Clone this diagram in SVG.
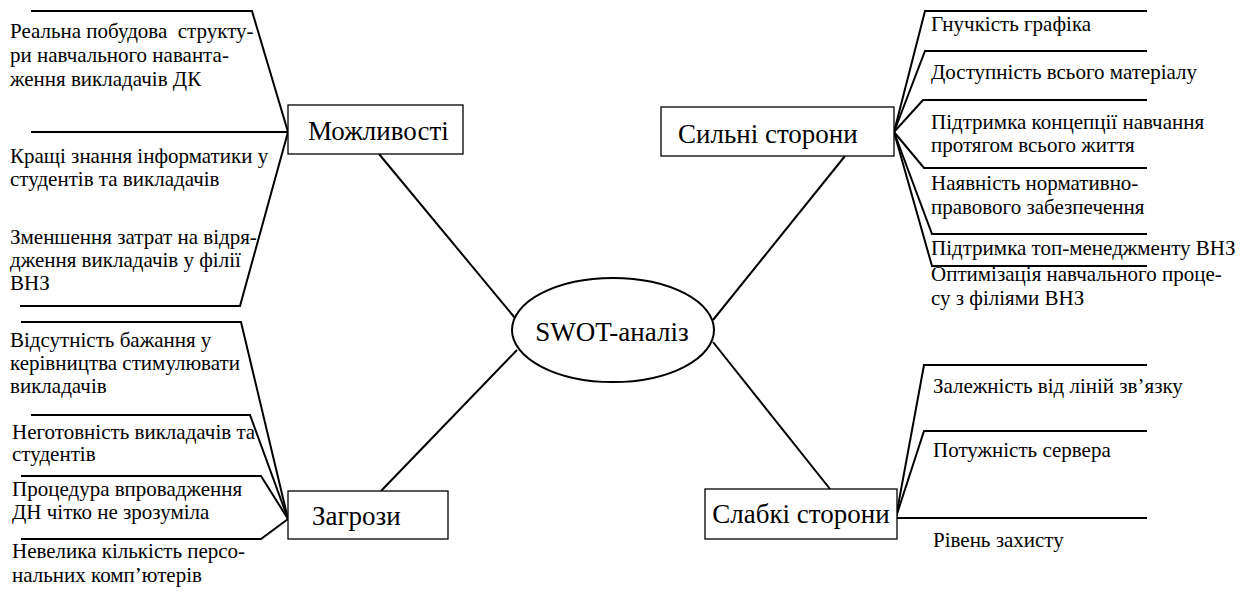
<svg xmlns="http://www.w3.org/2000/svg" width="1250" height="598" viewBox="0 0 1250 598">
<style>
.t{font-family:"Liberation Serif","Times New Roman",serif;font-size:21px;fill:#000}
.h{font-family:"Liberation Serif","Times New Roman",serif;font-size:27px;fill:#000}
.b{fill:#fff;stroke:#000;stroke-width:1.3}
.c{fill:none;stroke:#000;stroke-width:2}
</style>
<rect width="1250" height="598" fill="#fff"/>
<g id="connectors">
<path class="c" d="M379,154 L515,318"/>
<path class="c" d="M845,156 L713,320"/>
<path class="c" d="M517,350 L381,491"/>
<path class="c" d="M713,342 L830,489"/>
<path class="c" d="M31,11 H252 L288,132"/>
<path class="c" d="M31,132 H288"/>
<path class="c" d="M20,306 H240 L288,132"/>
<path class="c" d="M21,322 H241 L288,519"/>
<path class="c" d="M31,415 H250 L288,519"/>
<path class="c" d="M21,476 H261 L288,519"/>
<path class="c" d="M21,539 H261 L288,519"/>
<path class="c" d="M1147,11 H925 L894,132"/>
<path class="c" d="M1147,51 H925 L894,132"/>
<path class="c" d="M1147,100 H923 L894,132"/>
<path class="c" d="M1147,168 H924 L894,132"/>
<path class="c" d="M1147,234 H932 L894,132"/>
<path class="c" d="M1147,266 H932 L894,132"/>
<path class="c" d="M1147,365 H924 L896,517"/>
<path class="c" d="M1147,431 H924 L896,517"/>
<path class="c" d="M1147,518 H896"/>
</g>
<g id="swot">
<ellipse class="b" cx="613" cy="330" rx="101" ry="52" style="stroke-width:2"/>
<text class="h" x="612" y="341" text-anchor="middle">SWOT-аналіз</text>
</g>
<g id="opportunities">
<rect class="b" x="288" y="105" width="175" height="49"/>
<text class="h" x="308" y="140">Можливості</text>
</g>
<g id="threats">
<rect class="b" x="288" y="491" width="160" height="48"/>
<text class="h" x="312" y="525">Загрози</text>
</g>
<g id="strengths">
<rect class="b" x="661" y="107" width="233" height="49"/>
<text class="h" x="678" y="143">Сильні сторони</text>
</g>
<g id="weaknesses">
<rect class="b" x="705" y="489" width="192" height="50"/>
<text class="h" x="801" y="523" text-anchor="middle">Слабкі сторони</text>
</g>
<g id="opportunities-items">
<text class="t" x="10" y="38">Реальна побудова&#160; структу-</text>
<text class="t" x="10" y="62">ри навчального наванта-</text>
<text class="t" x="10" y="86">ження викладачів ДК</text>
<text class="t" x="10" y="163">Кращі знання інформатики у</text>
<text class="t" x="10" y="186">студентів та викладачів</text>
<text class="t" x="10" y="244">Зменшення затрат на відря-</text>
<text class="t" x="10" y="267">дження викладачів у філії</text>
<text class="t" x="10" y="290">ВНЗ</text>
</g>
<g id="threats-items">
<text class="t" x="10" y="347">Відсутність бажання у</text>
<text class="t" x="10" y="370">керівництва стимулювати</text>
<text class="t" x="10" y="393">викладачів</text>
<text class="t" x="12" y="439">Неготовність викладачів та</text>
<text class="t" x="12" y="461">студентів</text>
<text class="t" x="12" y="496">Процедура впровадження</text>
<text class="t" x="12" y="519">ДН чітко не зрозуміла</text>
<text class="t" x="12" y="558">Невелика кількість персо-</text>
<text class="t" x="12" y="582">нальних комп’ютерів</text>
</g>
<g id="strengths-items">
<text class="t" x="931" y="31">Гнучкість графіка</text>
<text class="t" x="931" y="79">Доступність всього матеріалу</text>
<text class="t" x="931" y="129">Підтримка концепції навчання</text>
<text class="t" x="931" y="152">протягом всього життя</text>
<text class="t" x="931" y="190">Наявність нормативно-</text>
<text class="t" x="931" y="214">правового забезпечення</text>
<text class="t" x="931" y="255">Підтримка топ-менеджменту ВНЗ</text>
<text class="t" x="931" y="281">Оптимізація навчального проце-</text>
<text class="t" x="931" y="305">су з філіями ВНЗ</text>
</g>
<g id="weaknesses-items">
<text class="t" x="933" y="393">Залежність від ліній зв’язку</text>
<text class="t" x="933" y="457">Потужність сервера</text>
<text class="t" x="933" y="547">Рівень захисту</text>
</g>
</svg>
